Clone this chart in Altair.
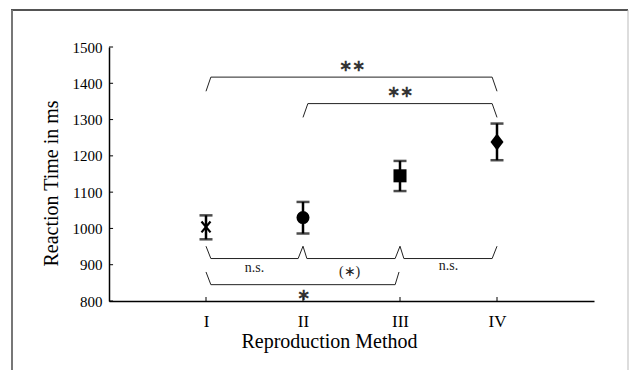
import altair as alt
import pandas as pd

# ---- data ----
methods = ["I", "II", "III", "IV"]
positions = [1, 2, 3, 4]
means = [1004, 1030, 1145, 1238]
err_low = [970, 986, 1103, 1188]
err_high = [1036, 1073, 1186, 1289]

y_ticks = [800, 900, 1000, 1100, 1200, 1300, 1400, 1500]

# significance brackets (x in method positions, y in ms)
br_all_x = [1.0, 1.05, 3.95, 4.0]
br_all_y = [1378, 1417, 1417, 1378]
br_2_4_x = [2.0, 2.05, 3.95, 4.0]
br_2_4_y = [1306, 1344, 1344, 1306]
br_pairs_x = [1.0, 1.05, 1.95, 2.0, 2.04, 2.95, 3.0, 3.04, 3.95, 4.0]
br_pairs_y = [951, 917, 917, 951, 917, 917, 951, 917, 917, 951]
br_1_3_x = [1.0, 1.05, 2.95, 2.99]
br_1_3_y = [880, 845, 845, 880]

star_text = ["∗∗", "∗∗", "∗"]
star_x = [2.5, 3.0, 2.0]
star_y = [1449, 1376, 816]
small_text = ["n.s.", "(∗)", "n.s."]
small_x = [1.5, 2.48, 3.5]
small_y = [892, 880, 896]

# ---- tables ----
df = pd.DataFrame({"method": methods, "pos": positions, "mean": means,
                   "lo": err_low, "hi": err_high})

rows = []
for name, xs, ys in [("all", br_all_x, br_all_y), ("b24", br_2_4_x, br_2_4_y),
                     ("pairs", br_pairs_x, br_pairs_y), ("b13", br_1_3_x, br_1_3_y)]:
    for i, (a, b) in enumerate(zip(xs, ys)):
        rows.append({"g": name, "o": i, "x": a, "y": b})
br_df = pd.DataFrame(rows)
stars_df = pd.DataFrame({"t": star_text, "x": star_x, "y": star_y})
small_df = pd.DataFrame({"t": small_text, "x": small_x, "y": small_y})
ytick_df = pd.DataFrame({"v": y_ticks})

FONT = "Liberation Serif"
xscale = alt.Scale(domain=[0, 5], nice=False, zero=False)
yscale = alt.Scale(domain=[800, 1500], nice=False, zero=False)

xaxis = alt.Axis(values=positions, labelExpr="['','I','II','III','IV'][datum.value]",
                 ticks=False, grid=False, domainColor="black", domainWidth=1.5,
                 labelFont=FONT, labelFontSize=17, labelColor="black", labelPadding=12,
                 title="Reproduction Method", titleFont=FONT, titleFontSize=20,
                 titleFontWeight="normal", titleColor="black",
                 titleX=220, titleY=46, titleAlign="center", titleBaseline="alphabetic")
yaxis = alt.Axis(values=y_ticks, format="d", labelOverlap=False, ticks=False, grid=False,
                 domainColor="black", domainWidth=1.5, labelFont=FONT, labelFontSize=15,
                 labelColor="black", labelPadding=7,
                 title="Reaction Time in ms", titleFont=FONT, titleFontSize=20,
                 titleFontWeight="normal", titleColor="black", titleAngle=-90,
                 titleX=-58, titleY=136, titleAlign="center", titleBaseline="middle")


def X(field=None, **kw):
    if field is None:
        return alt.X(scale=xscale, axis=xaxis, **kw)
    return alt.X(field, scale=xscale, axis=xaxis, **kw)


def Y(field=None, **kw):
    if field is None:
        return alt.Y(scale=yscale, axis=yaxis, **kw)
    return alt.Y(field, scale=yscale, axis=yaxis, **kw)


base = alt.Chart(df)

errbars = base.mark_rule(color="black", strokeWidth=2.5).encode(
    x=X("pos:Q"), y=Y("lo:Q"), y2="hi:Q")
caps_lo = base.mark_tick(color="black", thickness=2.5, size=13, orient="horizontal").encode(
    x=X("pos:Q"), y=Y("lo:Q"))
caps_hi = base.mark_tick(color="black", thickness=2.5, size=13, orient="horizontal").encode(
    x=X("pos:Q"), y=Y("hi:Q"))

shape_scale = alt.Scale(domain=["II", "III", "IV"],
                        range=["circle", "square", "M0,-1.3L1,0L0,1.3L-1,0Z"])
filled_pts = base.transform_filter("datum.method != 'I'").mark_point(
    filled=True, color="black", opacity=1, size=170).encode(
    x=X("pos:Q"), y=Y("mean:Q"),
    shape=alt.Shape("method:N", scale=shape_scale, legend=None))
cross_pt = base.transform_filter("datum.method == 'I'").mark_point(
    shape="M-1,-1.2L1,1.2M1,-1.2L-1,1.2", filled=False, color="black",
    strokeWidth=2.2, size=81, opacity=1).encode(x=X("pos:Q"), y=Y("mean:Q"))

brackets = alt.Chart(br_df).mark_line(color="#222", strokeWidth=1).encode(
    x=X("x:Q"), y=Y("y:Q"), detail="g:N", order="o:Q")

stars = alt.Chart(stars_df).mark_text(font=FONT, fontSize=16, fontWeight="bold",
                                      color="#333", baseline="middle",
                                      align="center").encode(
    x=X("x:Q"), y=Y("y:Q"), text="t:N")
smalls = alt.Chart(small_df).mark_text(font=FONT, fontSize=14, color="#222",
                                       baseline="middle", align="center").encode(
    x=X("x:Q"), y=Y("y:Q"), text="t:N")

xticks = base.mark_rule(color="black", strokeWidth=1).encode(
    x=X("pos:Q"), y=Y(datum=800), y2=alt.Y2(datum=811))
yticks = alt.Chart(ytick_df).mark_rule(color="black", strokeWidth=1).encode(
    y=Y("v:Q"), x=X(datum=0), x2=alt.X2(datum=0.042))

one = pd.DataFrame({"a": [0]})
frame_top = alt.Chart(one).mark_rule(color="#1a1a1a", strokeWidth=1.5).encode(
    x=alt.value(-98), x2=alt.value(519), y=alt.value(-37))
frame_left = alt.Chart(one).mark_rule(color="#777777", strokeWidth=2).encode(
    x=alt.value(-97), y=alt.value(-37), y2=alt.value(330))
frame_right = alt.Chart(one).mark_rule(color="#bbbbbb", strokeWidth=1).encode(
    x=alt.value(519), y=alt.value(-37), y2=alt.value(330))

chart = alt.layer(
    errbars, caps_lo, caps_hi, filled_pts, cross_pt, brackets, stars, smalls,
    xticks, yticks, frame_top, frame_left, frame_right
).properties(
    width=485, height=254,
    autosize=alt.AutoSizeParams(type="none"),
    padding={"left": 109, "top": 47, "right": 35, "bottom": 69},
    background="white",
).configure_view(stroke=None).configure_axis(
    labelFont=FONT, titleFont=FONT
).configure_text(font=FONT)

chart.save("out.html", embed_options={"renderer": "svg", "actions": False})
